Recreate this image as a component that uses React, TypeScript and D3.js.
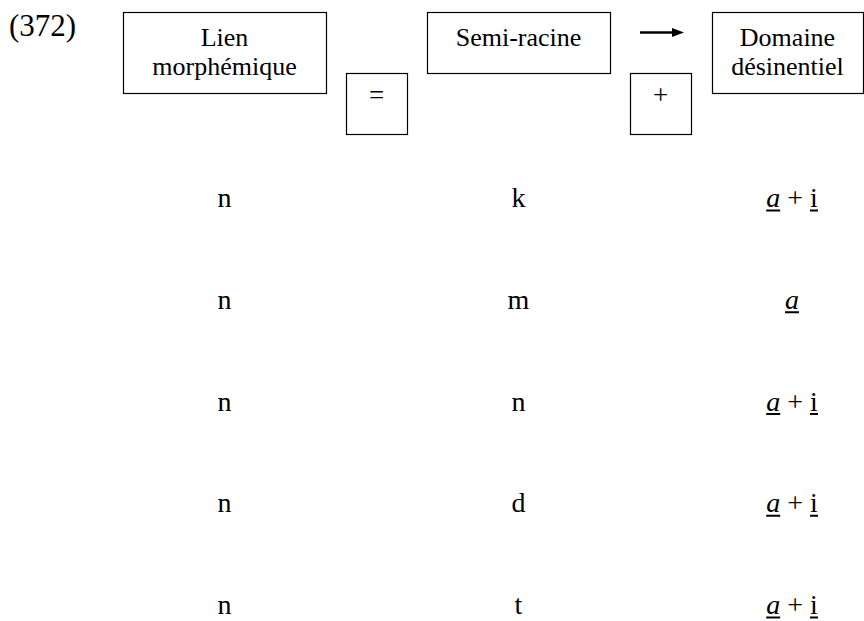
import { useEffect, useRef } from "react";
import * as d3 from "d3";

// header labels (one line per entry)
const exampleNumber = "(372)";
const headerLien = ["Lien", "morphémique"];
const headerRacine = ["Semi-racine"];
const headerDomaine = ["Domaine", "désinentiel"];
const operators = ["=", "+"];

// table rows
const lienValues = ["n", "n", "n", "n", "n"];
const racineValues = ["k", "m", "n", "d", "t"];
const domaineValues = [["a", "i"], ["a"], ["a", "i"], ["a", "i"], ["a", "i"]];

const columns = ["lien", "racine", "domaine"];

export default function App() {
  const ref = useRef<SVGSVGElement | null>(null);

  useEffect(() => {
    const font = "'Liberation Serif', 'Times New Roman', serif";

    const svg = d3.select(ref.current);
    svg.selectAll("*").remove();

    const x = d3
      .scaleOrdinal<string, number>()
      .domain(columns)
      .range([224.5, 518.5, 792]);

    const y = d3
      .scalePoint<number>()
      .domain(d3.range(lienValues.length))
      .range([207, 614]);

    // example number
    svg
      .append("text")
      .attr("x", 9)
      .attr("y", 36)
      .attr("font-family", font)
      .attr("font-size", 31)
      .text(exampleNumber);

    // header boxes
    const boxes = [
      { lines: headerLien, x0: 123, x1: 326, y0: 12, y1: 93 },
      { lines: headerRacine, x0: 427, x1: 610, y0: 12, y1: 73 },
      { lines: headerDomaine, x0: 712, x1: 863, y0: 12, y1: 93 },
    ];

    boxes.forEach((b) => {
      svg
        .append("rect")
        .attr("x", b.x0 + 0.5)
        .attr("y", b.y0 + 0.5)
        .attr("width", b.x1 - b.x0)
        .attr("height", b.y1 - b.y0)
        .attr("fill", "none")
        .attr("stroke", "#000")
        .attr("stroke-width", 1.2);

      svg
        .append("g")
        .selectAll("text")
        .data(b.lines)
        .join("text")
        .attr("x", (b.x0 + b.x1) / 2)
        .attr("y", (_, i) => 46 + i * 29)
        .attr("text-anchor", "middle")
        .attr("font-family", font)
        .attr("font-size", 26)
        .text((d) => d);
    });

    // operator boxes
    const opBoxes = [
      { x0: 346, x1: 407 },
      { x0: 630, x1: 691 },
    ];
    opBoxes.forEach((b, i) => {
      svg
        .append("rect")
        .attr("x", b.x0 + 0.5)
        .attr("y", 73.5)
        .attr("width", b.x1 - b.x0)
        .attr("height", 61)
        .attr("fill", "none")
        .attr("stroke", "#000")
        .attr("stroke-width", 1.2);
      svg
        .append("text")
        .attr("x", (b.x0 + b.x1) / 2)
        .attr("y", 104)
        .attr("text-anchor", "middle")
        .attr("font-family", font)
        .attr("font-size", 27)
        .text(operators[i]);
    });

    // arrow
    svg
      .append("line")
      .attr("x1", 640)
      .attr("x2", 674)
      .attr("y1", 32.5)
      .attr("y2", 32.5)
      .attr("stroke", "#000")
      .attr("stroke-width", 2.4);
    svg
      .append("path")
      .attr("d", "M672,28L684,32.5L672,37Z")
      .attr("fill", "#000");

    // rows
    const rows = svg.append("g");
    rows
      .selectAll("text.lien")
      .data(lienValues)
      .join("text")
      .attr("class", "lien")
      .attr("x", x("lien"))
      .attr("y", (_, i) => y(i) as number)
      .attr("text-anchor", "middle")
      .attr("font-family", font)
      .attr("font-size", 28)
      .text((d) => d);

    rows
      .selectAll("text.racine")
      .data(racineValues)
      .join("text")
      .attr("class", "racine")
      .attr("x", x("racine"))
      .attr("y", (_, i) => y(i) as number)
      .attr("text-anchor", "middle")
      .attr("font-family", font)
      .attr("font-size", 28)
      .text((d) => d);

    domaineValues.forEach((parts, i) => {
      const yy = y(i) as number;
      const t = rows
        .append("text")
        .attr("x", x("domaine"))
        .attr("y", yy)
        .attr("text-anchor", "middle")
        .attr("font-family", font)
        .attr("font-size", 28);

      const spans: d3.Selection<SVGTSpanElement, unknown, null, undefined>[] = [];
      parts.forEach((p, j) => {
        if (j > 0) t.append("tspan").text(" + ");
        const s = t
          .append("tspan")
          .attr("font-style", j === 0 ? "italic" : "normal")
          .text(p);
        spans.push(s);
      });

      // underline each morpheme
      spans.forEach((s) => {
        const bb = (s.node() as SVGTSpanElement).getBBox();
        rows
          .append("line")
          .attr("x1", bb.x)
          .attr("x2", bb.x + bb.width)
          .attr("y1", yy + 3.5)
          .attr("y2", yy + 3.5)
          .attr("stroke", "#000")
          .attr("stroke-width", 2);
      });
    });
  }, []);

  return (
    <svg
      ref={ref}
      width={864}
      height={621}
      style={{ position: "absolute", left: 0, top: 0, background: "#fff" }}
    />
  );
}
